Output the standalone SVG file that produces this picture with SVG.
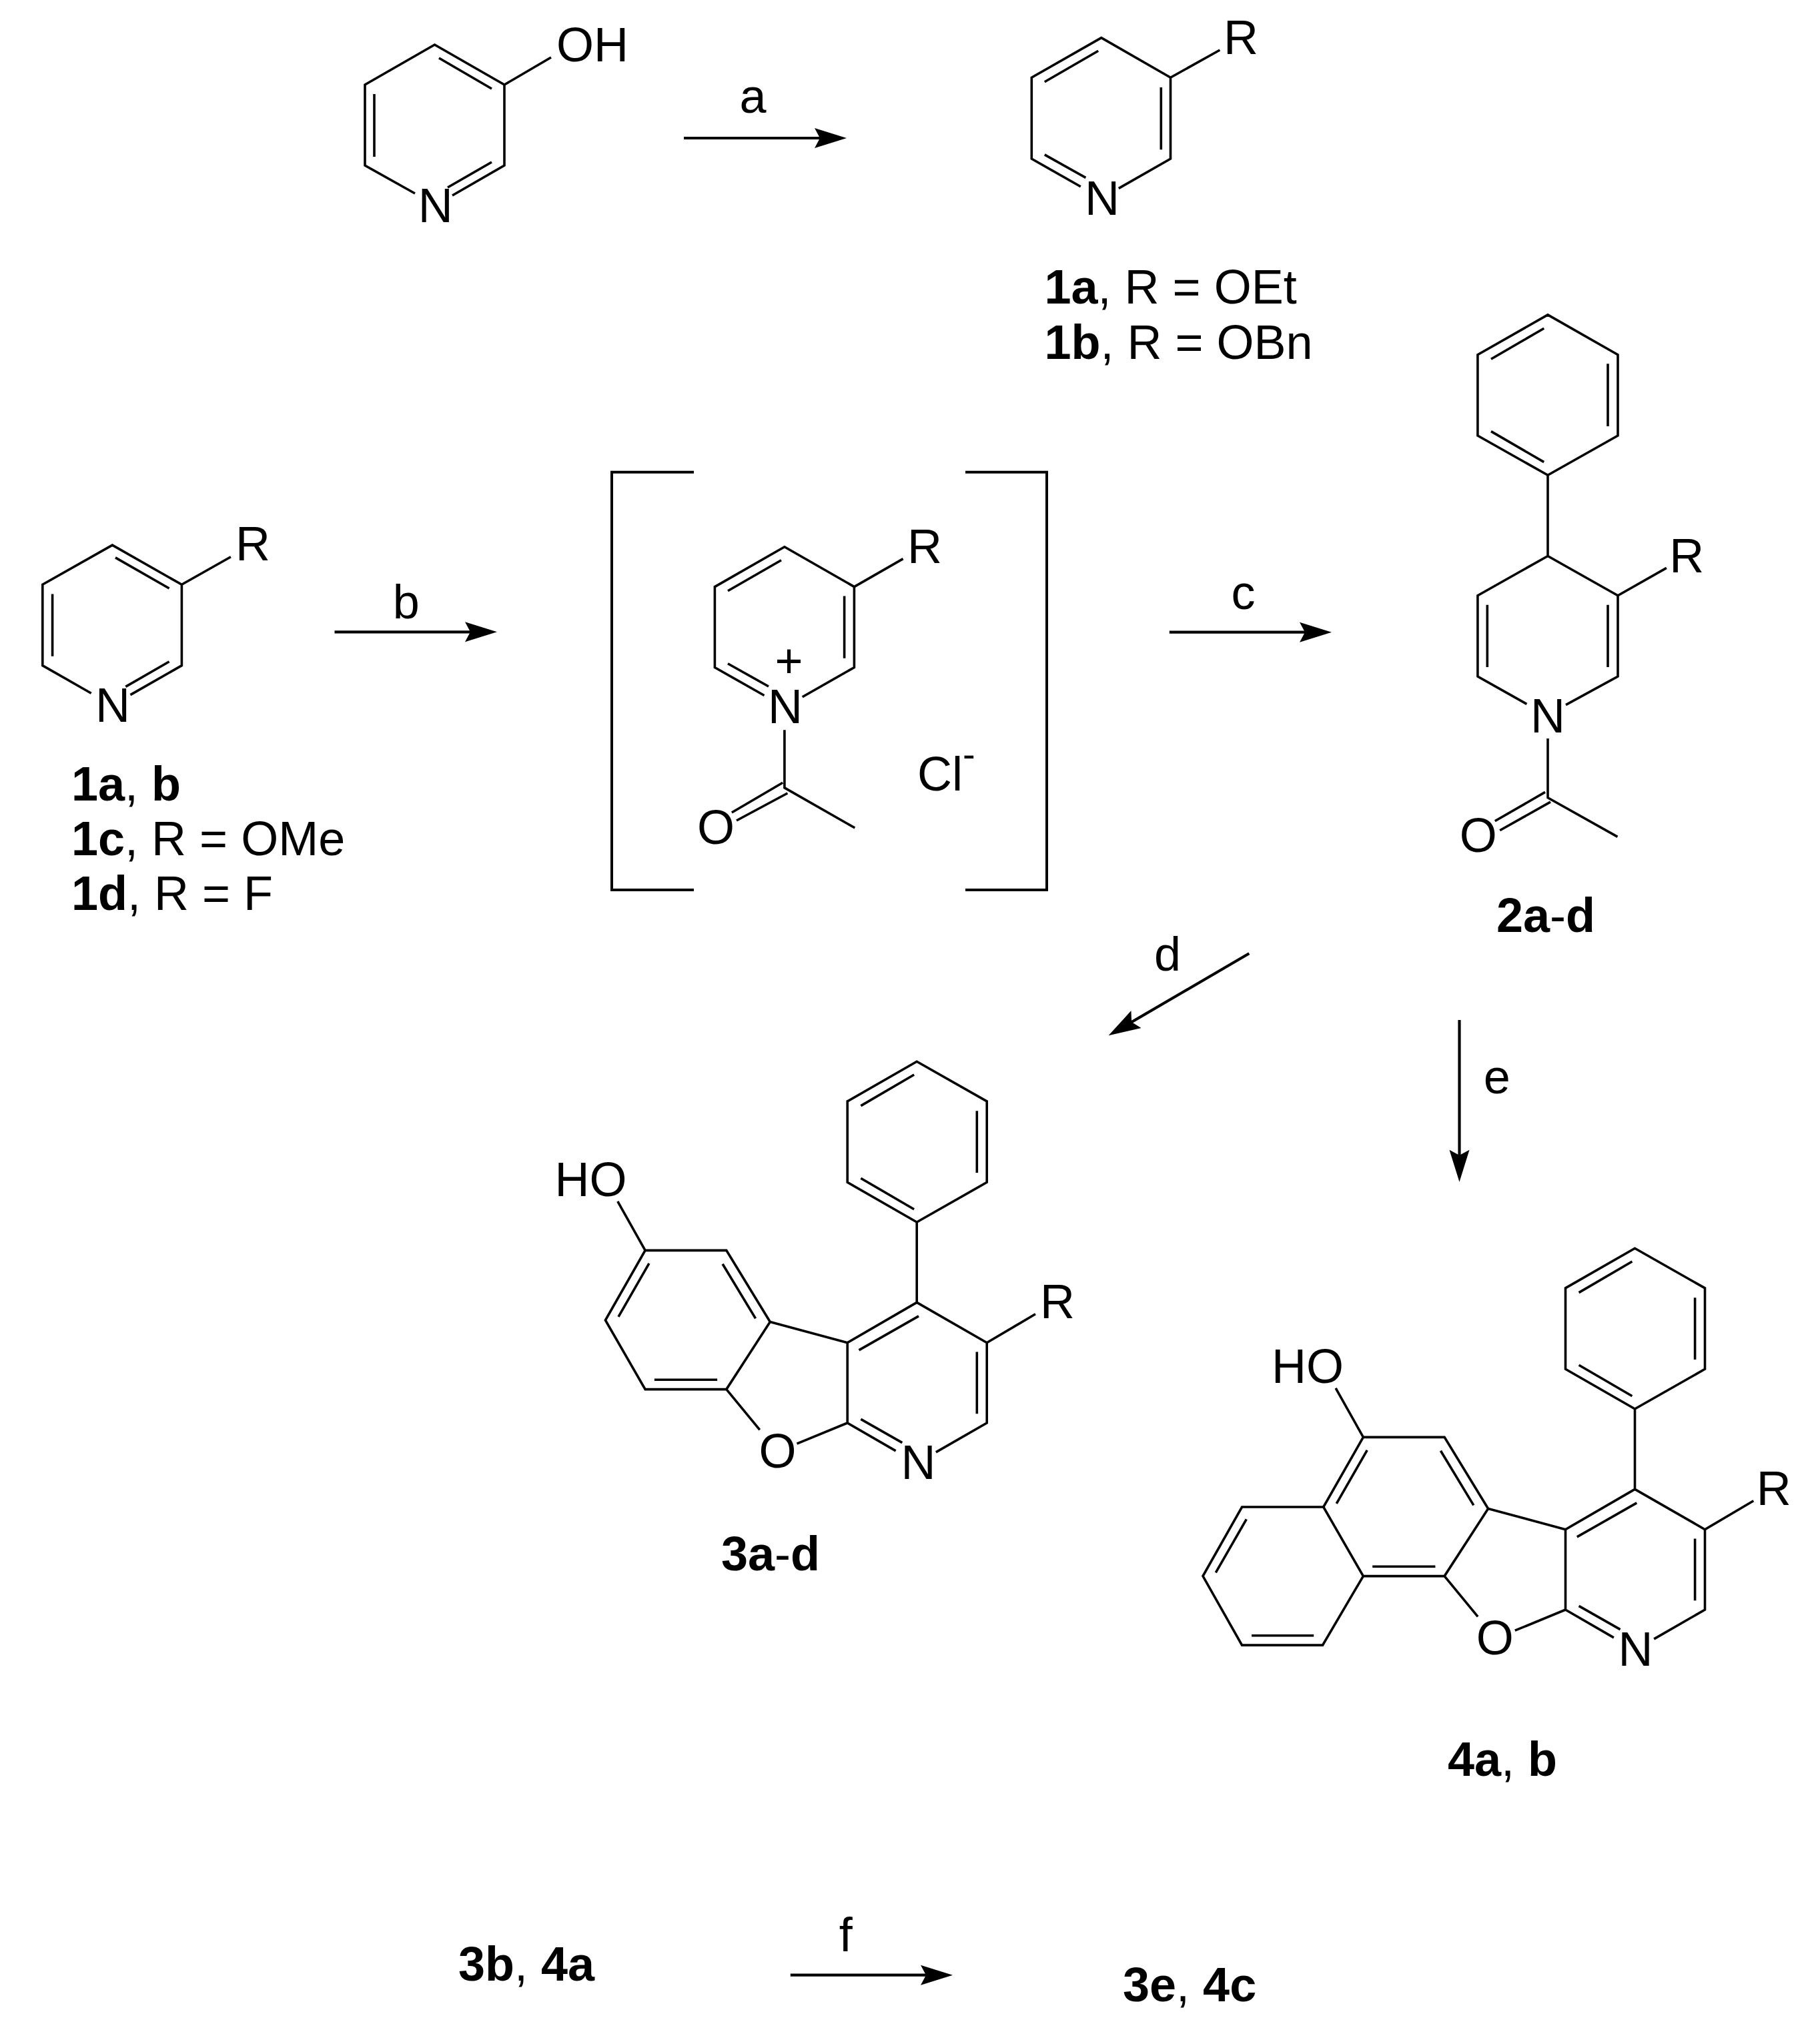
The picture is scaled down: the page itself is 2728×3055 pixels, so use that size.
<svg xmlns="http://www.w3.org/2000/svg" width="2728" height="3055" viewBox="0 0 2728 3055">
<style>
text{font-family:"Liberation Sans",Arial,sans-serif;font-size:72px;fill:#000}
.m{text-anchor:middle}
.b{font-weight:bold}
.bond{fill:none;stroke:#000;stroke-width:3.6;stroke-linejoin:miter;stroke-linecap:butt}
.arrow{fill:none;stroke:#000;stroke-width:4.2;marker-end:url(#head)}
.bracket{fill:none;stroke:#000;stroke-width:4}
</style>
<defs>
<marker id="head" markerUnits="userSpaceOnUse" markerWidth="60" markerHeight="40" viewBox="0 -20 60 40" refX="30" refY="0" orient="auto"><path d="M0,-15 L48,0 L0,15 L8,0 Z" fill="#000"/></marker>
<path id="core" class="bond" d="M1374.2,1591.2 L1270.2,1650.9 V1772.3 L1374.2,1832 L1479.2,1772.3 V1650.9 Z M1290.3,1657.6 L1370.1,1611 M1464.3,1665.2 V1758 M1290.3,1766.2 L1370.1,1812.7 M1374.2,1832 V1952.4 L1270.2,2012.7 V2133 M1374.2,1952.4 L1479.2,2012.7 V2133 L1402.9,2176.9 M1287.5,2023.9 L1377,1972.9 M1464.3,2026.4 V2119.3 M1270.2,2133 L1342.6,2174.9 M1290.3,2127.4 L1352.3,2162.6 M1479.2,2012.7 L1552,1969.8 M1270.2,2133 L1194.5,2164.2 M1088.8,2082.6 L1138.8,2143.3 M1270.2,2012.7 L1154.3,1981.5 M967.1,1874.4 H1088.8 L1154.3,1981.5 L1088.8,2082.6 H967.1 L907.4,1979 Z M1083.1,1894.8 L1132.5,1976.4 M972.9,1893.8 L927,1973.9 M980.9,2068.3 H1075.1 M967.1,1874.4 L925.8,1800.9"/>
</defs>
<rect width="2728" height="3055" fill="#fff"/>

<g id="connectors">
<path class="arrow" d="M1025,207 H1251"/>
<path class="arrow" d="M501.5,947.3 H727"/>
<path class="arrow" d="M1752.8,947.7 H1978"/>
<path class="arrow" d="M1872.3,1429.3 L1677.1,1543.2"/>
<path class="arrow" d="M2187.5,1529 V1753.7"/>
<path class="arrow" d="M1184.8,2960.7 H1410"/>
</g>

<g id="step-labels">
<text class="m" x="1128.6" y="169">a</text>
<text class="m" x="608.7" y="926.5">b</text>
<text class="m" x="1863.6" y="913.2">c</text>
<text class="m" x="1750" y="1455">d</text>
<text class="m" x="2243.8" y="1639.3">e</text>
<text class="m" x="1267.7" y="2925.3">f</text>
</g>

<g id="hydroxypyridine">
<path class="bond" d="M622,290 L547,248 V127 L651.5,67 L756,127 V248 L678,293 M561,141 V235 M658,87 L737,133 M737,243 L671,281 M756,127 L826,86"/>
<text class="m" x="652.7" y="333">N</text>
<text x="834" y="92">OH</text>
</g>

<g id="compound-1ab">
<path class="bond" d="M1619.8,279.8 L1546.3,238 V116.3 L1650.8,56.6 L1754.5,116.3 V238 L1676.8,282.4 M1565.8,122.8 L1646.2,76.2 M1740.3,130.9 V224.3 M1565.8,231.9 L1627.4,266.4 M1754.5,116.3 L1828.4,75"/>
<text class="m" x="1652" y="321.5">N</text>
<text x="1834" y="81">R</text>
<text x="1565.5" y="455.4"><tspan class="b">1a</tspan>, R = OEt</text>
<text x="1565.5" y="537.7"><tspan class="b">1b</tspan>, R = OBn</text>
</g>

<g id="compound-1a-d">
<path class="bond" d="M136.7,1039.2 L63.8,997.6 V876.3 L168.4,817.1 L272.4,876.3 V997.6 L195.4,1041.6 M173,835.9 L253.6,882 M78.6,890.6 V983.7 M253.6,991.8 L188.3,1029.4 M272.4,876.3 L345.9,834.7"/>
<text class="m" x="168.9" y="1081.6">N</text>
<text x="353" y="840.4">R</text>
<text x="107" y="1200"><tspan class="b">1a</tspan>, <tspan class="b">b</tspan></text>
<text x="107" y="1281.6"><tspan class="b">1c</tspan>, R = OMe</text>
<text x="107" y="1364"><tspan class="b">1d</tspan>, R = F</text>
</g>

<g id="intermediate">
<path class="bracket" d="M1040,707.7 H917 V1334 H1040 M1447,707.7 H1569 V1334 H1447"/>
<path class="bond" d="M1145.5,1042.5 L1071.4,1000.5 V879.6 L1175.9,819.7 L1280.4,879.6 V1000.5 L1202.7,1044.7 M1091,994.7 L1152,1029 M1091,885.8 L1171,839.8 M1265.6,893.4 V986.7 M1280.4,879.6 L1353.6,837.6 M1175.9,1094.3 V1180.9 L1281.3,1241 M1173.2,1173.3 L1096.9,1218 M1180.4,1189 L1104,1230"/>
<text class="m" x="1177" y="1084">N</text>
<text class="m" x="1182.6" y="1015">+</text>
<text x="1360" y="844.3">R</text>
<text class="m" x="1073" y="1265">O</text>
<text x="1375" y="1184.5">Cl<tspan dy="-34.5" font-size="56">-</tspan></text>
</g>

<g id="compound-2a-d">
<path class="bond" d="M2320,471.9 L2214.9,531.8 V653 L2320,712.3 L2425,653 V531.8 Z M2235,538.2 L2314.2,492.3 M2410,545.2 V639 M2235,646.6 L2314.2,692.6 M2320,712.3 V833.5 L2214.9,892.8 V1014 L2288.4,1055.4 M2320,833.5 L2425,892.8 V1014 L2347,1056.7 M2229.3,906.8 V1000 M2410,906.8 V1000 M2425,892.8 L2497.9,851.4 M2320,1107 V1195.7 L2424.5,1254.4 M2316,1187.4 L2240.8,1230.8 M2324,1202.1 L2248.2,1244.8"/>
<text class="m" x="2320" y="1098">N</text>
<text x="2502.3" y="857.7">R</text>
<text class="m" x="2215.8" y="1277">O</text>
<text x="2243" y="1396.6"><tspan class="b">2a</tspan>-<tspan class="b">d</tspan></text>
</g>

<g id="compound-3a-d">
<use href="#core"/>
<text class="m" x="1376.5" y="2216.7">N</text>
<text x="1559" y="1976.4">R</text>
<text class="m" x="1165.5" y="2200">O</text>
<text x="831.5" y="1793.3">HO</text>
<text x="1081" y="2354"><tspan class="b">3a</tspan>-<tspan class="b">d</tspan></text>
</g>

<g id="compound-4ab">
<use href="#core" transform="translate(1076.3,280)"/>
<path class="bond" d="M1984,2259 H1861.6 L1803,2362.6 L1861.6,2466.1 H1982.5 L2043.4,2362.6 M1868.3,2277.3 L1822.3,2357.4 M1876.1,2451.8 H1969.2"/>
<text class="m" x="2451.5" y="2496.7">N</text>
<text x="2632.8" y="2256.4">R</text>
<text class="m" x="2240.7" y="2480">O</text>
<text x="1906" y="2073.3">HO</text>
<text x="2170" y="2662"><tspan class="b">4a</tspan>, <tspan class="b">b</tspan></text>
</g>

<g id="final-labels">
<text x="687" y="2968.7"><tspan class="b">3b</tspan>, <tspan class="b">4a</tspan></text>
<text x="1683" y="3000"><tspan class="b">3e</tspan>, <tspan class="b">4c</tspan></text>
</g>
</svg>
